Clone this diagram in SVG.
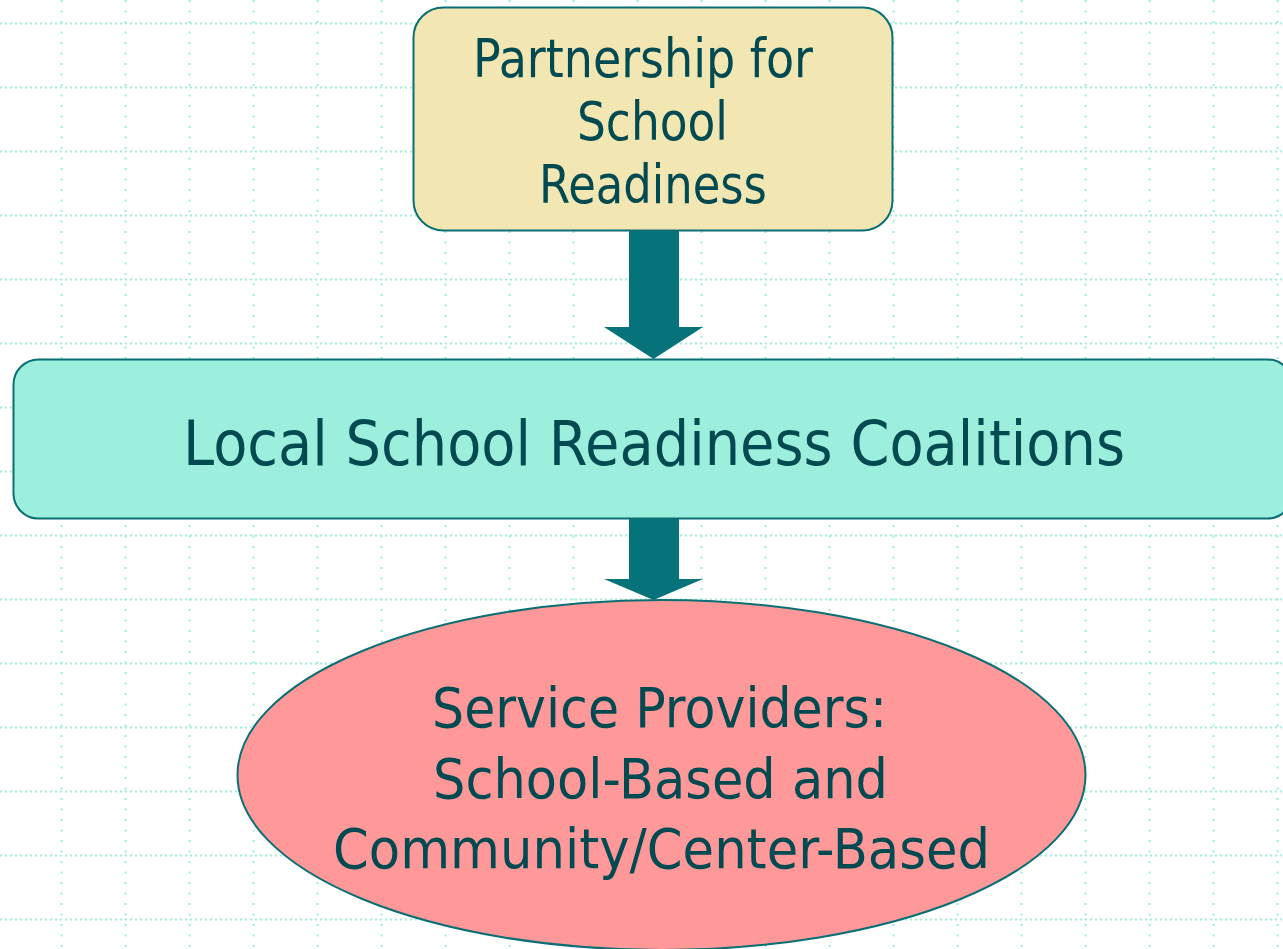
<svg xmlns="http://www.w3.org/2000/svg" width="1283" height="949" viewBox="0 0 1283 949">
  <style>
    .gh { stroke: #9FEEDD; stroke-width: 2; stroke-dasharray: 2 3; fill: none; }
    .gv { stroke: #9FEEDD; stroke-width: 2; stroke-dasharray: 2 8.5; fill: none; }
    .node { stroke: #0A6E75; stroke-width: 2; }
    .lbl { font-family: "DejaVu Sans", "Liberation Sans", sans-serif; fill: #024A52; text-anchor: middle; }
    .arrow { fill: #06737A; }
  </style>
  <rect x="0" y="0" width="1283" height="949" fill="#FFFFFF"/>
  <g id="grid">
    <path class="gh" d="M0 23.5H1283M0 87.5H1283M0 151.5H1283M0 215.5H1283M0 279.5H1283M0 343.5H1283M0 407.5H1283M0 471.5H1283M0 535.5H1283M0 599.5H1283M0 663.5H1283M0 727.5H1283M0 791.5H1283M0 855.5H1283M0 919.5H1283"/>
    <path class="gv" d="M61.5 0V949M125.5 0V949M189.5 0V949M253.5 0V949M317.5 0V949M381.5 0V949M445.5 0V949M509.5 0V949M573.5 0V949M637.5 0V949M701.5 0V949M765.5 0V949M829.5 0V949M893.5 0V949M957.5 0V949M1021.5 0V949M1085.5 0V949M1149.5 0V949M1213.5 0V949M1277.5 0V949"/>
  </g>
  <g id="partnership">
    <rect class="node" x="413.5" y="7.5" width="479" height="223" rx="30" ry="30" fill="#F2E6B3"/>
    <text class="lbl" x="643" y="77" font-size="54" textLength="340" lengthAdjust="spacingAndGlyphs">Partnership for</text>
    <text class="lbl" x="652.5" y="140" font-size="54" textLength="151" lengthAdjust="spacingAndGlyphs">School</text>
    <text class="lbl" x="653" y="203" font-size="54" textLength="228" lengthAdjust="spacingAndGlyphs">Readiness</text>
  </g>
  <g id="coalitions">
    <rect class="node" x="13.5" y="359.5" width="1279" height="159" rx="25" ry="25" fill="#9CEFDC"/>
    <text class="lbl" x="654" y="465" font-size="63" textLength="942" lengthAdjust="spacingAndGlyphs">Local School Readiness Coalitions</text>
  </g>
  <g id="providers">
    <ellipse class="node" cx="661.5" cy="775" rx="424" ry="175" fill="#FF9999"/>
    <text class="lbl" x="659.5" y="727" font-size="55" textLength="455" lengthAdjust="spacingAndGlyphs">Service Providers:</text>
    <text class="lbl" x="660.5" y="798" font-size="55" textLength="455" lengthAdjust="spacingAndGlyphs">School-Based and</text>
    <text class="lbl" x="661.5" y="868" font-size="55" textLength="657" lengthAdjust="spacingAndGlyphs">Community/Center-Based</text>
  </g>
  <g id="connectors">
    <polygon class="arrow" points="629,231 679,231 679,327 703,327 653.5,359 604,327 629,327"/>
    <polygon class="arrow" points="629,519 679,519 679,579 703,579 653.5,600 604,579 629,579"/>
  </g>
</svg>
